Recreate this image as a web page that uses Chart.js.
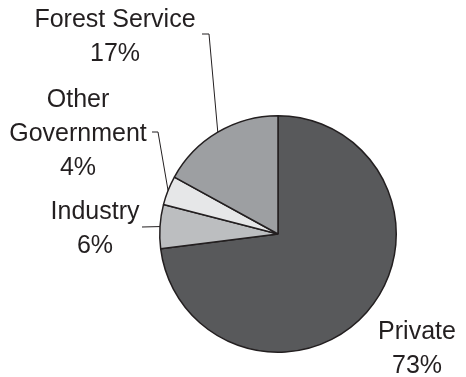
<html><head><meta charset="UTF-8"><title>Land ownership</title><style>
body {
    margin: 0;
    padding: 0;
    background: #ffffff;
}
.chart-box {
    width: 466px;
    height: 377px;
}
</style>
<script src="https://cdn.jsdelivr.net/npm/chart.js"></script>
</head>
<body>
<div class="chart-box">
    <canvas id="ownerChart" width="466" height="377"></canvas>
</div>
<script>
const categories = ['Private', 'Industry', 'Other Government', 'Forest Service'];
const shares = [73, 6, 4, 17];
const sliceColors = ['#58595b', '#bcbec0', '#e6e7e8', '#9d9fa2'];

// label lines per slice, plus where the text sits and where the leader bends
const labelLines = [
    ['Private', '73%'],
    ['Industry', '6%'],
    ['Other', 'Government', '4%'],
    ['Forest Service', '17%']
];
const labelSpots = [
    { x: 417, y: 339, leader: null },
    { x: 95, y: 219, leader: [[142, 227]] },
    { x: 78, y: 107, leader: [[152, 132], [158, 132]] },
    { x: 115, y: 27, leader: [[202, 34], [209, 34]] }
];

const outsideLabels = {
    id: 'outsideLabels',
    afterDraw(chart) {
        const ctx = chart.ctx;
        const arcs = chart.getDatasetMeta(0).data;
        ctx.save();
        ctx.fillStyle = '#231f20';
        ctx.strokeStyle = '#231f20';
        ctx.lineWidth = 1;
        ctx.font = '25px "Liberation Sans", Arial, sans-serif';
        ctx.textAlign = 'center';
        ctx.textBaseline = 'alphabetic';

        arcs.forEach((arc, i) => {
            const spot = labelSpots[i];
            labelLines[i].forEach((line, j) => {
                ctx.fillText(line, spot.x, spot.y + j * 34);
            });
            if (spot.leader) {
                const p = arc.getProps(['x', 'y', 'startAngle', 'endAngle', 'outerRadius'], true);
                const mid = (p.startAngle + p.endAngle) / 2;
                const ex = p.x + Math.cos(mid) * p.outerRadius;
                const ey = p.y + Math.sin(mid) * p.outerRadius;
                ctx.beginPath();
                ctx.moveTo(spot.leader[0][0], spot.leader[0][1]);
                for (let k = 1; k < spot.leader.length; k++) {
                    ctx.lineTo(spot.leader[k][0], spot.leader[k][1]);
                }
                ctx.lineTo(ex, ey);
                ctx.stroke();
            }
        });
        ctx.restore();
    }
};

const ctx = document.getElementById('ownerChart').getContext('2d');
const chart = new Chart(ctx, {
    type: 'pie',
    data: {
        labels: categories,
        datasets: [{
            data: shares,
            backgroundColor: sliceColors,
            borderColor: '#231f20',
            borderWidth: 1.5
        }]
    },
    options: {
        responsive: false,
        animation: false,
        layout: {
            padding: { left: 159, right: 69, top: 115, bottom: 24 }
        },
        plugins: {
            legend: { display: false },
            tooltip: { enabled: false }
        }
    },
    plugins: [outsideLabels]
});
</script>
</body></html>
